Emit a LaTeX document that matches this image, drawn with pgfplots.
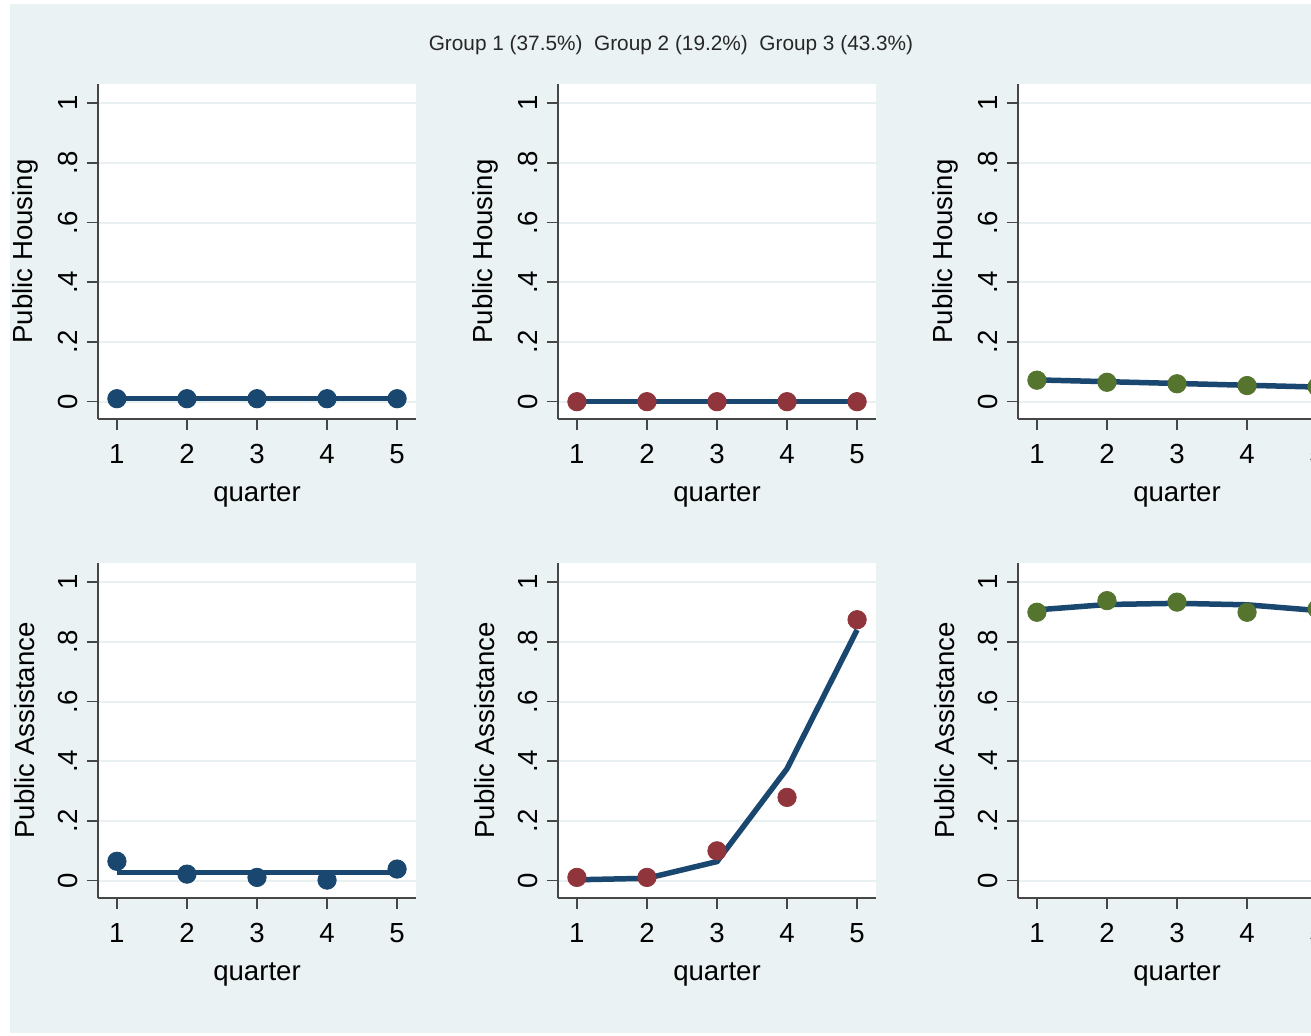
\documentclass[border=0pt]{standalone}
\usepackage{fontspec}
\setmainfont{Liberation Sans}
\usepackage{pgfplots}
\pgfplotsset{compat=1.18}
\definecolor{bgc}{RGB}{234,242,243}
\definecolor{gridc}{RGB}{232,240,242}
\definecolor{snavy}{RGB}{26,71,111}
\definecolor{smaroon}{RGB}{144,53,59}
\definecolor{sgreen}{RGB}{85,117,47}
\definecolor{axc}{RGB}{70,70,70}
\pgfplotsset{
  panel/.style={
    scale only axis, width=159pt, height=167.5pt,
    anchor=south west,
    xmin=0.73, xmax=5.27, ymin=-0.058, ymax=1.064,
    axis lines*=left, axis line style={axc, line width=0.8pt, -},
    axis background/.style={fill=white},
    xtick={1,2,3,4,5}, ytick={0,0.2,0.4,0.6,0.8,1}, yticklabels={0,.2,.4,.6,.8,1},
    /pgf/number format/assume math mode=true,
    tick align=outside, major tick length=5.5pt, tick style={axc, line width=0.8pt},
    ymajorgrids, grid style={gridc, line width=1pt},
    ticklabel style={font=\fontsize{13.8}{16}\selectfont, inner sep=0pt},
    yticklabel style={rotate=90, anchor=south},
    xticklabel style={anchor=north},
    xticklabel shift=7pt, yticklabel shift=4.5pt,
    label style={font=\fontsize{13.8}{16}\selectfont},
    xlabel={quarter},
    xlabel style={at={(axis description cs:0.5,-0.227)}, anchor=center},
    ylabel style={at={(axis description cs:-0.2296,0.5)}, anchor=center},
    clip=false,
  },
  fit/.style={snavy, line width=2.75pt, no markers},
  pts/.style={only marks, mark=*, mark size=4.6pt},
}
\begin{document}
\begin{tikzpicture}
\useasboundingbox (0,0) rectangle (655.5pt,517.5pt);
\clip (0,0) rectangle (655.5pt,517.5pt);
\fill[white] (0,0) rectangle (655.5pt,517.5pt);
\fill[bgc] (5pt,1pt) rectangle (655.5pt,515.5pt);
\node[font=\fontsize{10.4}{12}\selectfont, text=black!85] at (335.5pt,495pt) {Group 1 (37.5\%)\ \ Group 2 (19.2\%)\ \ Group 3 (43.3\%)};

% Top row: Public Housing
\begin{axis}[panel, at={(49pt,308pt)}, ylabel={Public Housing}]
\addplot[fit] coordinates {(1,0.010) (2,0.010) (3,0.010) (4,0.010) (5,0.010)};
\addplot[pts, snavy] coordinates {(1,0.010) (2,0.010) (3,0.010) (4,0.010) (5,0.010)};
\end{axis}
\begin{axis}[panel, at={(279pt,308pt)}, ylabel={Public Housing}]
\addplot[fit] coordinates {(1,0.000) (2,0.000) (3,0.000) (4,0.000) (5,0.000)};
\addplot[pts, smaroon] coordinates {(1,0.000) (2,0.000) (3,0.000) (4,0.000) (5,0.000)};
\end{axis}
\begin{axis}[panel, at={(509pt,308pt)}, ylabel={Public Housing}]
\addplot[fit] coordinates {(1,0.073) (2,0.067) (3,0.061) (4,0.055) (5,0.049)};
\addplot[pts, sgreen] coordinates {(1,0.072) (2,0.065) (3,0.060) (4,0.054) (5,0.050)};
\end{axis}

% Bottom row: Public Assistance
\begin{axis}[panel, at={(49pt,68.5pt)}, ylabel={Public Assistance}]
\addplot[fit] coordinates {(1,0.028) (2,0.028) (3,0.028) (4,0.028) (5,0.028)};
\addplot[pts, snavy] coordinates {(1,0.065) (2,0.022) (3,0.011) (4,0.002) (5,0.039)};
\end{axis}
\begin{axis}[panel, at={(279pt,68.5pt)}, ylabel={Public Assistance}]
\addplot[fit] coordinates {(1,0.003) (2,0.008) (3,0.064) (4,0.375) (5,0.840)};
\addplot[pts, smaroon] coordinates {(1,0.011) (2,0.011) (3,0.100) (4,0.279) (5,0.874)};
\end{axis}
\begin{axis}[panel, at={(509pt,68.5pt)}, ylabel={Public Assistance}]
\addplot[fit] coordinates {(1,0.907) (2,0.925) (3,0.929) (4,0.924) (5,0.905)};
\addplot[pts, sgreen] coordinates {(1,0.899) (2,0.938) (3,0.933) (4,0.899) (5,0.910)};
\end{axis}
\end{tikzpicture}
\end{document}
